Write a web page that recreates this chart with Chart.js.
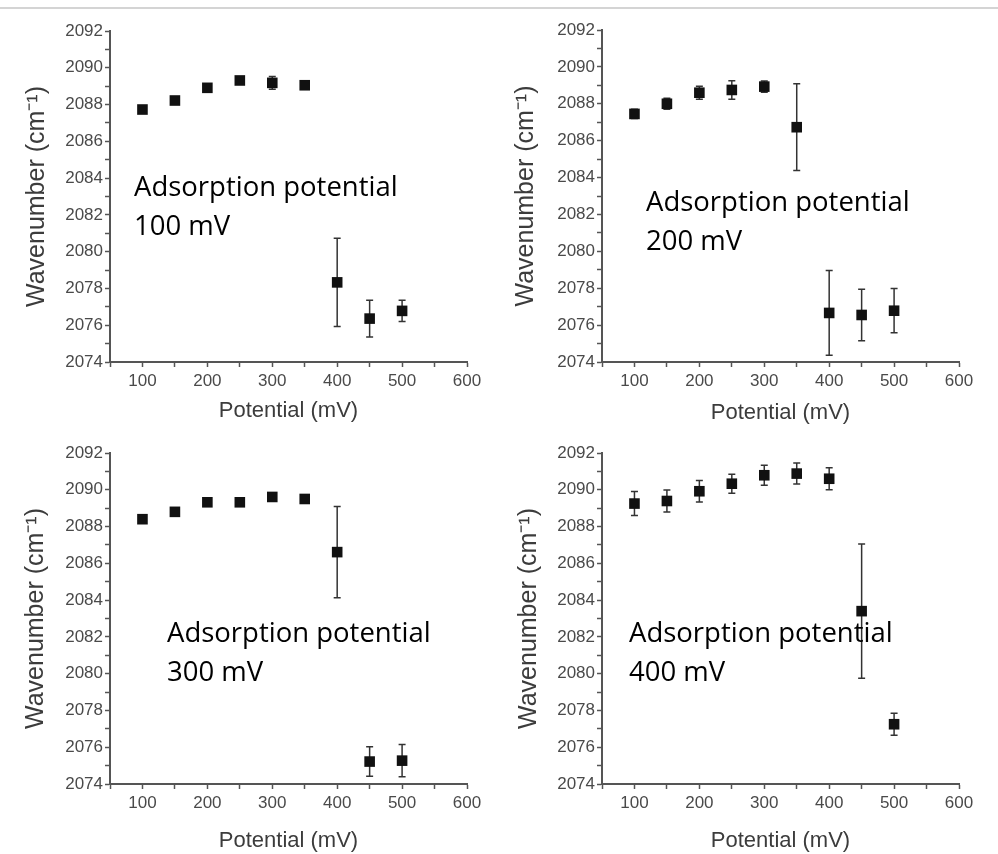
<!DOCTYPE html>
<html>
<head>
<meta charset="utf-8">
<script src="https://cdn.jsdelivr.net/npm/chart.js@4.4.1/dist/chart.umd.min.js"></script>
<style>
  body{margin:0;background:#fff;}
  #wrap{position:relative;width:998px;height:854px;overflow:hidden;}
  #topline{position:absolute;left:0;top:7px;width:998px;height:2px;background:#d4d4d4;}
  canvas{position:absolute;}
  .note{position:absolute;font-family:"Open Sans",sans-serif;font-size:27.5px;line-height:39px;color:#000;white-space:nowrap;}
</style>
</head>
<body>
<div id="wrap">
  <div id="topline"></div>
  <canvas id="c1" width="499" height="430" style="left:0;top:0"></canvas>
  <canvas id="c2" width="499" height="430" style="left:499px;top:0"></canvas>
  <canvas id="c3" width="499" height="424" style="left:0;top:430px"></canvas>
  <canvas id="c4" width="499" height="424" style="left:499px;top:430px"></canvas>
  <div class="note" style="left:134px;top:166px">Adsorption potential<br>100 mV</div>
  <div class="note" style="left:646px;top:181px">Adsorption potential<br>200 mV</div>
  <div class="note" style="left:167px;top:612px">Adsorption potential<br>300 mV</div>
  <div class="note" style="left:629px;top:612px">Adsorption potential<br>400 mV</div>
</div>
<script>
// データ
const potentials = [100, 150, 200, 250, 300, 350, 400, 450, 500];

const wn100 = [2087.73, 2088.22, 2088.91, 2089.31, 2089.18, 2089.05, 2078.33, 2076.36, 2076.78];
const err100 = [0.2, 0.15, 0.15, 0.2, 0.35, 0.15, 2.4, 1.0, 0.58];

const wn200 = [2087.45, 2088.0, 2088.6, 2088.75, 2088.93, 2086.73, 2076.66, 2076.55, 2076.78];
const err200 = [0.25, 0.3, 0.35, 0.5, 0.3, 2.35, 2.3, 1.4, 1.2];

const wn300 = [2088.4, 2088.8, 2089.32, 2089.32, 2089.61, 2089.5, 2086.61, 2075.22, 2075.27];
const err300 = [0.1, 0.1, 0.1, 0.1, 0.1, 0.1, 2.48, 0.8, 0.88];

const wn400 = [2089.25, 2089.39, 2089.92, 2090.33, 2090.79, 2090.88, 2090.6, 2083.4, 2077.25];
const err400 = [0.65, 0.6, 0.58, 0.52, 0.55, 0.57, 0.6, 3.65, 0.6];

const xMin = 50, xMax = 600;
const yMin = 2074, yMax = 2092;

// エラーバーを点の下に描く
const errorBars = {
  id: 'errorBars',
  beforeDatasetsDraw(chart) {
    const ctx = chart.ctx;
    const xs = chart.scales.x, ys = chart.scales.y;
    chart.data.datasets.forEach(function(ds){
      ds.data.forEach(function(p, i){
        const e = ds.errs[i];
        if (!e) return;
        const px = xs.getPixelForValue(p.x);
        const top = ys.getPixelForValue(p.y + e);
        const bot = ys.getPixelForValue(p.y - e);
        ctx.save();
        ctx.strokeStyle = '#333';
        ctx.lineWidth = 1.5;
        ctx.beginPath();
        ctx.moveTo(px, top); ctx.lineTo(px, bot);
        ctx.moveTo(px - 3.5, top); ctx.lineTo(px + 3.5, top);
        ctx.moveTo(px - 3.5, bot); ctx.lineTo(px + 3.5, bot);
        ctx.stroke();
        ctx.restore();
      });
    });
  }
};

const tickFont = {family: '"Liberation Sans", Arial, sans-serif', size: 17};
const titleFont = {family: '"Liberation Sans", Arial, sans-serif'};

function makePanel(id, values, errs, g) {
  const pts = potentials.map(function(p, i){ return {x: p, y: values[i]}; });
  return new Chart(document.getElementById(id), {
    type: 'scatter',
    data: {
      datasets: [{
        data: pts,
        errs: errs,
        pointStyle: 'rect',
        pointRadius: 7.5,
        backgroundColor: '#111',
        borderColor: '#111',
        borderWidth: 0
      }]
    },
    options: {
      responsive: false,
      animation: false,
      layout: {padding: {top: g.top, right: g.right, left: 0, bottom: 0}},
      plugins: {legend: {display: false}, tooltip: {enabled: false}},
      scales: {
        x: {
          type: 'linear', min: xMin, max: xMax,
          afterFit: function(s){ s.height = g.xh; },
          ticks: {
            stepSize: 50, autoSkip: false, maxRotation: 0, padding: 4,
            font: tickFont, color: '#4a4a4a',
            callback: function(v){ return v % 100 === 0 ? String(v) : ''; }
          },
          grid: {drawOnChartArea: false, tickLength: 5, tickColor: '#555', tickWidth: 1.5},
          border: {color: '#555', width: 2},
          title: {
            display: true, text: 'Potential (mV)', color: '#3c3c3c',
            font: Object.assign({size: 22}, titleFont),
            padding: {top: 0, bottom: g.xtp}
          }
        },
        y: {
          min: yMin, max: yMax,
          afterFit: function(s){ s.width = g.yw; },
          ticks: {
            stepSize: 1, autoSkip: false, padding: 2,
            font: tickFont, color: '#4a4a4a',
            callback: function(v){ return v % 2 === 0 ? String(v) : ''; }
          },
          grid: {drawOnChartArea: false, tickLength: 5, tickColor: '#555', tickWidth: 1.5},
          border: {color: '#555', width: 2},
          title: {
            display: true, text: 'Wavenumber (cm⁻¹)', color: '#3c3c3c',
            font: Object.assign({size: 25}, titleFont),
            padding: {top: g.ytp, bottom: 0}
          }
        }
      }
    },
    plugins: [errorBars]
  });
}

makePanel('c1', wn100, err100, {top: 31, right: 32, xh: 68, yw: 110, xtp: 6, ytp: 22});
makePanel('c2', wn200, err200, {top: 30, right: 39, xh: 68, yw: 103, xtp: 4, ytp: 12});
makePanel('c3', wn300, err300, {top: 23, right: 32, xh: 70, yw: 110, xtp: 0, ytp: 21});
makePanel('c4', wn400, err400, {top: 23, right: 39, xh: 70, yw: 103, xtp: 0, ytp: 15});
</script>
</body>
</html>
